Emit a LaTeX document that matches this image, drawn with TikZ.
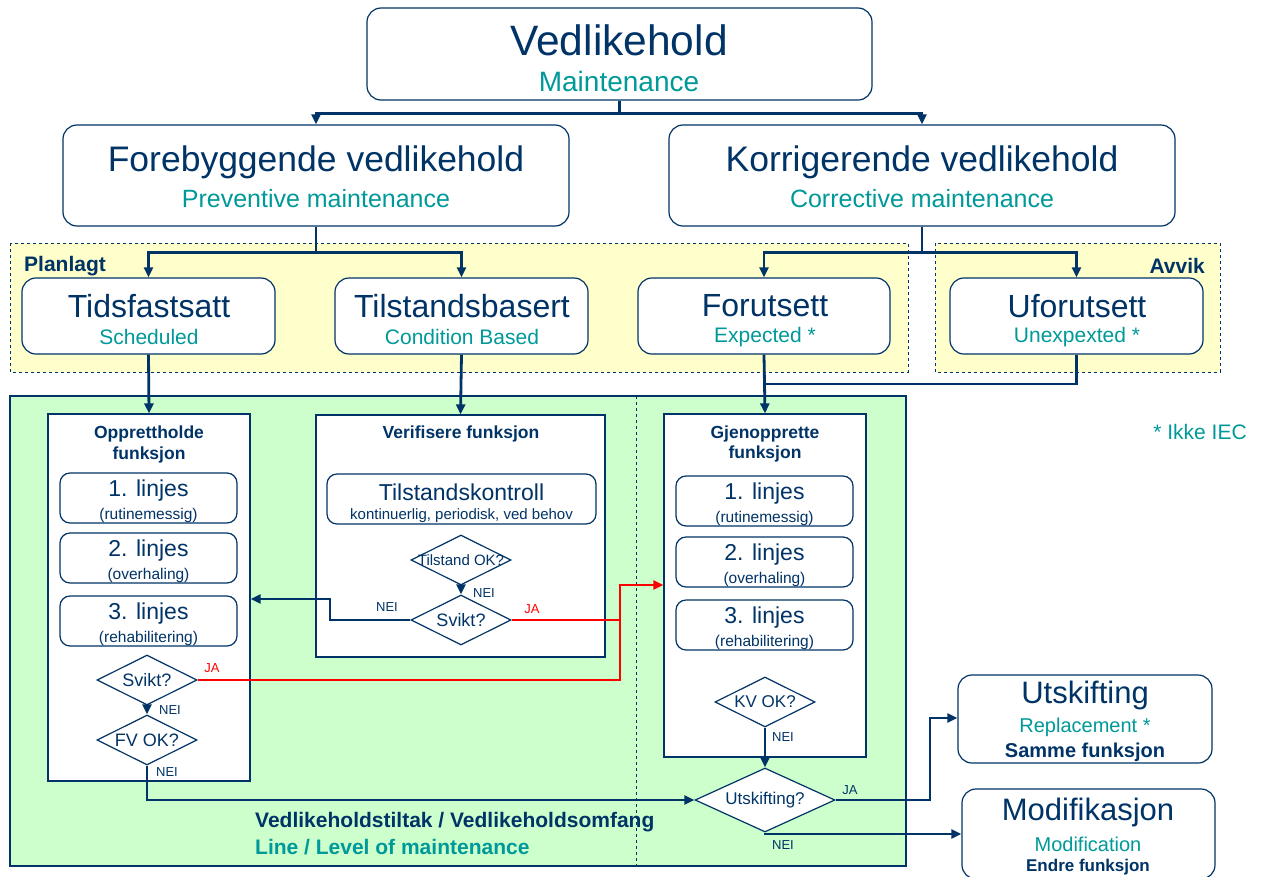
\documentclass[tikz,border=0pt]{standalone}
\usepackage{fontspec}
\setmainfont{Liberation Sans}
\usetikzlibrary{shapes.geometric,arrows.meta}

\definecolor{navy}{RGB}{0,51,102}
\definecolor{tealtxt}{RGB}{0,153,153}
\definecolor{paleyellow}{RGB}{255,255,204}
\definecolor{palegreen}{RGB}{204,255,204}

\begin{document}
\begin{tikzpicture}[x=1pt,y=-1pt,
	box/.style={draw=navy,fill=white,line width=1.2pt,rounded corners=14pt,inner sep=0pt},
	subbox/.style={draw=navy,fill=white,line width=1.2pt,rounded corners=10pt,inner sep=0pt,minimum width=177pt,minimum height=50pt},
	panel/.style={draw=navy,fill=white,line width=1.2pt,inner sep=0pt},
	dia/.style={diamond,draw=navy,fill=white,line width=1.2pt,inner sep=0pt,minimum width=100pt,minimum height=50pt},
	conn/.style={draw=navy,line width=2.8pt,-{Triangle[length=10pt,width=9pt]}},
	line/.style={draw=navy,line width=2.8pt},
	redconn/.style={draw=red,line width=2.8pt,-{Triangle[length=10pt,width=9pt]}},
	redline/.style={draw=red,line width=2.8pt},
	txt/.style={inner sep=0pt,text=navy},
	sub/.style={inner sep=0pt,text=tealtxt},
	nei/.style={inner sep=0pt,text=navy,font=\fontsize{13}{15}\selectfont},
	ja/.style={inner sep=0pt,text=red,font=\fontsize{13}{15}\selectfont}]
	\useasboundingbox (0,0) rectangle (1264,876);
	% regions
	\fill[paleyellow] (10,243) rectangle (908,372);
	\draw[navy,dashed,line width=1pt] (10,243) rectangle (908,372);
	\fill[paleyellow] (935,243) rectangle (1220,372);
	\draw[navy,dashed,line width=1pt] (935,243) rectangle (1220,372);
	\draw[navy,fill=palegreen,line width=1.2pt] (10,396) rectangle (906,866);
	\node[txt,anchor=west,font=\bfseries\fontsize{21}{25}\selectfont] (planlagt) at (24,266) {Planlagt};
	\node[txt,anchor=east,font=\bfseries\fontsize{21}{25}\selectfont] (avvik) at (1205,266) {Avvik};
	% top levels
	\node[box,minimum width=505pt,minimum height=92pt] (vedl) at (619.5,54) {};
	\node[txt,font=\fontsize{42.5}{50}\selectfont] at (619,40) {Vedlikehold};
	\node[sub,font=\fontsize{28}{33}\selectfont] at (619,81) {Maintenance};
	\node[box,minimum width=506pt,minimum height=101pt] (fore) at (316,175.5) {};
	\node[txt,font=\fontsize{35.5}{42}\selectfont] at (316,162) {Forebyggende vedlikehold};
	\node[sub,font=\fontsize{25}{30}\selectfont] at (316,199) {Preventive maintenance};
	\node[box,minimum width=506pt,minimum height=101pt] (korr) at (922,175.5) {};
	\node[txt,font=\fontsize{35.5}{42}\selectfont] at (922,162) {Korrigerende vedlikehold};
	\node[sub,font=\fontsize{25}{30}\selectfont] at (922,199) {Corrective maintenance};
	% level 3
	\node[box,minimum width=253pt,minimum height=76pt] (tids) at (148.5,316) {};
	\node[txt,font=\fontsize{32}{38}\selectfont] at (149,306) {Tidsfastsatt};
	\node[sub,font=\fontsize{21}{25}\selectfont] at (149,337) {Scheduled};
	\node[box,minimum width=253pt,minimum height=76pt] (tilst) at (461.5,316) {};
	\node[txt,font=\fontsize{32}{38}\selectfont] at (462,306) {Tilstandsbasert};
	\node[sub,font=\fontsize{21}{25}\selectfont] at (462,337) {Condition Based};
	\node[box,minimum width=252pt,minimum height=76pt] (forut) at (764,316) {};
	\node[txt,font=\fontsize{32}{38}\selectfont] at (765,306) {Forutsett};
	\node[sub,font=\fontsize{21}{25}\selectfont] at (765,337) {Expected *};
	\node[box,minimum width=253pt,minimum height=76pt] (ufor) at (1076.5,316) {};
	\node[txt,font=\fontsize{32}{38}\selectfont] at (1077,306) {Uforutsett};
	\node[sub,font=\fontsize{21}{25}\selectfont] at (1077,337) {Unexpexted *};
	% panels
	\node[panel,minimum width=202pt,minimum height=367pt] (opp) at (149,597.5) {};
	\node[txt,font=\bfseries\fontsize{17.5}{21}\selectfont] at (149,434) {Opprettholde};
	\node[txt,font=\bfseries\fontsize{17.5}{21}\selectfont] at (149,455) {funksjon};
	\node[panel,minimum width=289pt,minimum height=242pt] (ver) at (460.5,536) {};
	\node[txt,font=\bfseries\fontsize{17.5}{21}\selectfont] at (461,434) {Verifisere funksjon};
	\node[panel,minimum width=202pt,minimum height=343pt] (gjen) at (765,585.5) {};
	\node[txt,font=\bfseries\fontsize{17.5}{21}\selectfont] at (765,434) {Gjenopprette};
	\node[txt,font=\bfseries\fontsize{17.5}{21}\selectfont] at (765,454) {funksjon};
	% line boxes
	\node[subbox] (opp1) at (148.5,498) {};
	\node[txt,font=\fontsize{23}{27}\selectfont] at (148.5,491) {1. linjes};
	\node[txt,font=\fontsize{15.5}{18}\selectfont] at (148.5,515) {(rutinemessig)};
	\node[subbox] (opp2) at (148.5,558) {};
	\node[txt,font=\fontsize{23}{27}\selectfont] at (148.5,551) {2. linjes};
	\node[txt,font=\fontsize{15.5}{18}\selectfont] at (148.5,575) {(overhaling)};
	\node[subbox] (opp3) at (148.5,621) {};
	\node[txt,font=\fontsize{23}{27}\selectfont] at (148.5,614) {3. linjes};
	\node[txt,font=\fontsize{15.5}{18}\selectfont] at (148.5,638) {(rehabilitering)};
	\node[subbox] (gjen1) at (764.5,501) {};
	\node[txt,font=\fontsize{23}{27}\selectfont] at (764.5,494) {1. linjes};
	\node[txt,font=\fontsize{15.5}{18}\selectfont] at (764.5,518) {(rutinemessig)};
	\node[subbox] (gjen2) at (764.5,562) {};
	\node[txt,font=\fontsize{23}{27}\selectfont] at (764.5,555) {2. linjes};
	\node[txt,font=\fontsize{15.5}{18}\selectfont] at (764.5,579) {(overhaling)};
	\node[subbox] (gjen3) at (764.5,625) {};
	\node[txt,font=\fontsize{23}{27}\selectfont] at (764.5,618) {3. linjes};
	\node[txt,font=\fontsize{15.5}{18}\selectfont] at (764.5,642) {(rehabilitering)};
	\node[subbox,minimum width=269pt] (tk) at (461.5,499) {};
	\node[txt,font=\fontsize{23}{27}\selectfont] at (461.5,492) {Tilstandskontroll};
	\node[txt,font=\fontsize{15}{18}\selectfont] at (461.5,516) {kontinuerlig, periodisk, ved behov};
	% decisions
	\node[dia,label={[txt,font=\fontsize{18}{21}\selectfont]center:Svikt?}] (svikt1) at (147,680) {};
	\node[dia,label={[txt,font=\fontsize{18}{21}\selectfont]center:FV OK?}] (fvok) at (147,740) {};
	\node[dia,label={[txt,font=\fontsize{15}{18}\selectfont]center:Tilstand OK?}] (tok) at (461,560) {};
	\node[dia,label={[txt,font=\fontsize{18}{21}\selectfont]center:Svikt?}] (svikt2) at (461,620) {};
	\node[dia,label={[txt,font=\fontsize{17}{20}\selectfont]center:KV OK?}] (kvok) at (765,702) {};
	\node[dia,minimum width=140pt,minimum height=64pt,label={[txt,font=\fontsize{17}{20}\selectfont]center:Utskifting?}] (utsk) at (765,800) {};
	% outcomes
	\node[box,minimum width=254pt,minimum height=88pt] (repl) at (1085,719) {};
	\node[txt,font=\fontsize{31}{36}\selectfont] at (1085,695) {Utskifting};
	\node[sub,font=\fontsize{20}{24}\selectfont] at (1085,727) {Replacement *};
	\node[txt,font=\bfseries\fontsize{20}{24}\selectfont] at (1085,752) {Samme funksjon};
	\node[box,minimum width=253pt,minimum height=90pt] (modif) at (1088.5,834) {};
	\node[txt,font=\fontsize{31}{36}\selectfont] at (1088,812) {Modifikasjon};
	\node[sub,font=\fontsize{20}{24}\selectfont] at (1088,844) {Modification};
	\node[txt,font=\bfseries\fontsize{17}{20}\selectfont] at (1088,867) {Endre funksjon};
	\node[sub,font=\fontsize{21}{25}\selectfont] (ikke) at (1200,432) {* Ikke IEC};
	\node[txt,anchor=west,font=\bfseries\fontsize{21}{25}\selectfont] (tiltak) at (255,822) {Vedlikeholdstiltak / Vedlikeholdsomfang};
	\node[sub,anchor=west,font=\bfseries\fontsize{21}{25}\selectfont] (level) at (255,847) {Line / Level of maintenance};
	\draw[navy,dashed,line width=1pt] (636,396) -- (636,866);
	% connectors
	\draw[conn] (vedl.south) -- ++(0,13) -| (fore.north);
	\draw[conn] (vedl.south) -- ++(0,13) -| (korr.north);
	\draw[conn] (fore.south) -- ++(0,26) -| (tids.north);
	\draw[conn] (fore.south) -- ++(0,26) -| (tilst.north);
	\draw[conn] (korr.south) -- ++(0,26) -| (forut.north);
	\draw[conn] (korr.south) -- ++(0,26) -| (ufor.north);
	\coordinate (join) at (765,384);
	\draw[line] (ufor.south) |- (join);
	\draw[conn] (tids.south) -- (opp.north);
	\draw[conn] (tilst.south) -- (ver.north);
	\draw[conn] (forut.south) -- (gjen.north);
	\draw[conn] (svikt1.south) -- (fvok.north);
	\node[nei] at (170,710) {NEI};
	\draw[conn] (fvok.south) |- (utsk.west);
	\node[nei] at (167,772) {NEI};
	\draw[conn] (tok.south) -- (svikt2.north);
	\node[nei] at (484,593) {NEI};
	\coordinate (neiknee) at (330,599);
	\draw[conn] (svikt2.west) -| (neiknee) -- (neiknee -| opp.east);
	\node[nei] at (387,607) {NEI};
	\coordinate (redknee) at (620,585);
	\draw[redconn] (svikt1.east) -| (redknee) -- (redknee -| gjen.west);
	\node[ja] at (212,668) {JA};
	\draw[redline] (svikt2.east) -- (svikt2.east -| redknee);
	\node[ja] at (532,609) {JA};
	\draw[conn] (kvok.south) -- (utsk.north);
	\node[nei] at (783,737) {NEI};
	\coordinate (jaknee) at (930,718);
	\draw[conn] (utsk.east) -| (jaknee) -- (jaknee -| repl.west);
	\node[nei] at (850,790) {JA};
	\draw[conn] (utsk.south) |- (modif.west);
	\node[nei] at (783,845) {NEI};
\end{tikzpicture}
\end{document}
